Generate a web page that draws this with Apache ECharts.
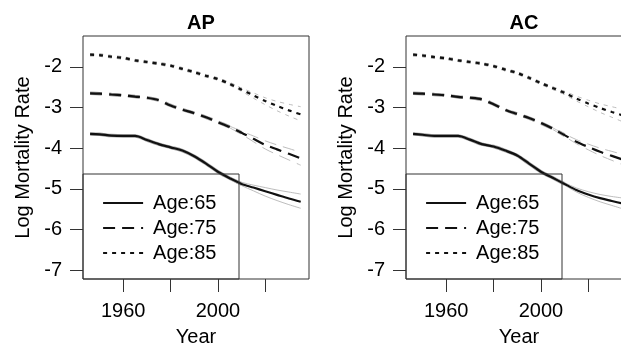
<!DOCTYPE html>
<html>
<head>
<meta charset="utf-8">
<script src="https://cdn.jsdelivr.net/npm/echarts@6/dist/echarts.min.js"></script>
<style>
  html, body { margin: 0; padding: 0; background: #fff; }
  #chart { width: 621px; height: 348px; }
</style>
</head>
<body>
<div id="chart"></div>
<script>
// --- data ---
const years = [1946, 1950, 1955, 1960, 1965, 1970, 1975, 1980, 1985, 1990, 1995, 2000, 2005, 2010, 2015, 2020, 2025, 2030, 2035]
const bandYears = [2005, 2010, 2015, 2020, 2025, 2030, 2035]
const histCount = 14 // points up to 2010 are observed
const yTicks = [-7, -6, -5, -4, -3, -2]
const xTicks = [1960, 1980, 2000, 2020]
const xLabels = [1960, 2000]
const ages = ['Age:65', 'Age:75', 'Age:85']
const panels = ['AP', 'AC']

// AP
const ap65 = [-3.65, -3.66, -3.69, -3.70, -3.70, -3.80, -3.90, -3.98, -4.06, -4.20, -4.38, -4.58, -4.74, -4.88, -4.97, -5.06, -5.15, -5.24, -5.32]
const ap75 = [-2.65, -2.66, -2.68, -2.70, -2.73, -2.76, -2.82, -2.95, -3.05, -3.14, -3.24, -3.36, -3.48, -3.62, -3.77, -3.92, -4.03, -4.14, -4.25]
const ap85 = [-1.70, -1.71, -1.75, -1.78, -1.84, -1.88, -1.92, -1.97, -2.05, -2.13, -2.22, -2.30, -2.42, -2.56, -2.70, -2.84, -2.96, -3.07, -3.17]
const apUp65 = [-4.72, -4.84, -4.91, -4.97, -5.03, -5.08, -5.13]
const apLo65 = [-4.76, -4.92, -5.05, -5.18, -5.29, -5.39, -5.48]
const apUp75 = [-3.46, -3.58, -3.70, -3.82, -3.92, -4.01, -4.10]
const apLo75 = [-3.50, -3.66, -3.84, -4.02, -4.16, -4.29, -4.42]
const apUp85 = [-2.40, -2.52, -2.64, -2.76, -2.85, -2.92, -2.98]
const apLo85 = [-2.44, -2.60, -2.77, -2.93, -3.08, -3.21, -3.33]

// AC
const ac65 = [-3.65, -3.67, -3.70, -3.70, -3.70, -3.79, -3.90, -3.96, -4.06, -4.18, -4.38, -4.58, -4.73, -4.88, -5.03, -5.14, -5.23, -5.30, -5.37]
const ac75 = [-2.65, -2.66, -2.68, -2.70, -2.74, -2.76, -2.80, -2.92, -3.06, -3.16, -3.26, -3.38, -3.52, -3.68, -3.84, -3.97, -4.09, -4.19, -4.29]
const ac85 = [-1.70, -1.72, -1.76, -1.79, -1.84, -1.88, -1.92, -1.98, -2.07, -2.15, -2.27, -2.40, -2.52, -2.64, -2.78, -2.90, -3.01, -3.11, -3.20]
const acUp65 = [-4.71, -4.85, -4.98, -5.07, -5.14, -5.19, -5.23]
const acLo65 = [-4.75, -4.91, -5.08, -5.21, -5.32, -5.41, -5.50]
const acUp75 = [-3.50, -3.65, -3.79, -3.90, -4.00, -4.08, -4.16]
const acLo75 = [-3.54, -3.71, -3.89, -4.04, -4.18, -4.30, -4.42]
const acUp85 = [-2.50, -2.60, -2.72, -2.82, -2.91, -2.98, -3.05]
const acLo85 = [-2.54, -2.68, -2.84, -2.98, -3.12, -3.24, -3.36]

const fits = [[ap65, ap75, ap85], [ac65, ac75, ac85]]
const ups = [[apUp65, apUp75, apUp85], [acUp65, acUp75, acUp85]]
const los = [[apLo65, apLo75, apLo85], [acLo65, acLo75, acLo85]]

// --- styling ---
const FONT = 'Liberation Sans, Arial, Helvetica, sans-serif'
const dashes = ['solid', [12, 7], [4, 5]]
const gridLeft = [83, 406]
const gridTop = 36
const gridW = 226
const gridH = 243

const zip = (xs, ys) => xs.map((x, i) => [x, ys[i]])

const series = []
panels.forEach((p, i) => {
  ages.forEach((age, k) => {
    const fit = fits[i][k]
    const common = { type: 'line', xAxisIndex: i, yAxisIndex: i, symbol: 'none', smooth: 0.3, silent: true }
    // observed (grey, under the fit)
    series.push({ ...common, name: 'obs' + k,
      data: zip(years.slice(0, histCount), fit.slice(0, histCount)),
      lineStyle: { color: '#a0a0a0', width: 3.5, type: dashes[k] } })
    // prediction bands
    series.push({ ...common, name: 'up' + k, data: zip(bandYears, ups[i][k]),
      lineStyle: { color: '#bdbdbd', width: 1, type: dashes[k] } })
    series.push({ ...common, name: 'lo' + k, data: zip(bandYears, los[i][k]),
      lineStyle: { color: '#bdbdbd', width: 1, type: dashes[k] } })
    // fitted / forecast
    series.push({ ...common, name: age, data: zip(years, fit), z: 3,
      itemStyle: { color: '#111' },
      lineStyle: { color: '#111', width: 2.2, type: dashes[k] } })
  })
})

const option = {
  animation: false,
  backgroundColor: '#fff',
  title: panels.map((p, i) => ({
    text: p,
    left: gridLeft[i] + gridW / 2,
    top: 8,
    textAlign: 'center',
    textStyle: { fontFamily: FONT, fontSize: 20, fontWeight: 'bold', color: '#000' },
  })),
  grid: panels.map((p, i) => ({
    left: gridLeft[i], top: gridTop, width: gridW, height: gridH,
    outerBoundsMode: 'none', containLabel: false,
    show: true, borderColor: '#333', borderWidth: 1, backgroundColor: 'transparent',
  })),
  xAxis: panels.map((p, i) => ({
    type: 'value', gridIndex: i, min: 1943, max: 2038.5,
    name: 'Year', nameLocation: 'middle', nameGap: 48,
    nameTextStyle: { fontFamily: FONT, fontSize: 20, color: '#000' },
    axisLine: { show: false },
    splitLine: { show: false },
    axisTick: { show: true, length: 13, customValues: xTicks, lineStyle: { color: '#333' } },
    axisLabel: { customValues: xLabels, margin: 22, fontFamily: FONT, fontSize: 20, color: '#000',
      formatter: (v) => String(v) },
  })),
  yAxis: panels.map((p, i) => ({
    type: 'value', gridIndex: i, min: -7.22, max: -1.24,
    name: 'Log Mortality Rate', nameLocation: 'middle', nameGap: 50,
    nameTextStyle: { fontFamily: FONT, fontSize: 20, color: '#000' },
    axisLine: { show: false },
    splitLine: { show: false },
    axisTick: { show: true, length: 13, customValues: yTicks, lineStyle: { color: '#333' } },
    axisLabel: { customValues: yTicks, margin: 21, fontFamily: FONT, fontSize: 20, color: '#000' },
  })),
  legend: panels.map((p, i) => ({
    data: ages,
    orient: 'vertical',
    left: gridLeft[i] + 19,
    top: 193,
    padding: 0,
    itemWidth: 40,
    itemHeight: 14,
    itemGap: 5,
    selectedMode: false,
    itemStyle: { color: 'rgba(0,0,0,0)', borderWidth: 0, opacity: 0 },
    lineStyle: { width: 2.2 },
    textStyle: { fontFamily: FONT, fontSize: 20, color: '#000', lineHeight: 20, padding: [0, 0, 0, 5] },
  })),
  graphic: panels.map((p, i) => ({
    type: 'rect', z: 10,
    shape: { x: gridLeft[i], y: 174, width: 156, height: gridTop + gridH - 174 },
    style: { fill: 'none', stroke: '#333', lineWidth: 1 },
  })),
  series,
}

const chart = echarts.init(document.getElementById('chart'), null, { renderer: 'canvas' })
chart.setOption(option)
</script>
</body>
</html>
